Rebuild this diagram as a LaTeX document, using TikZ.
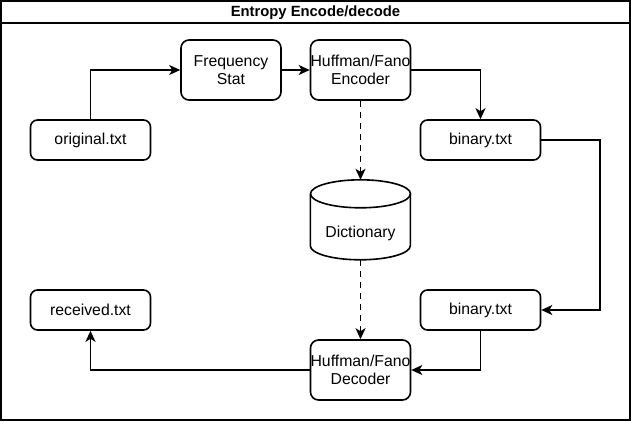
\documentclass[tikz,border=0pt]{standalone}
\usepackage{fontspec}
\setmainfont{Liberation Sans}
\usetikzlibrary{arrows.meta,calc}
\begin{document}
\begin{tikzpicture}[x=1pt,y=-1pt,
  box/.style={draw=black,line width=1.6pt,rounded corners=8pt,fill=white,align=center,
    font=\fontsize{15.8}{18.5}\selectfont,inner sep=0pt},
  bigbox/.style={box,minimum width=100pt,minimum height=60pt},
  filebox/.style={box,rounded corners=7pt,minimum width=120pt,minimum height=40pt},
  conn/.style={line width=1.5pt,-{Stealth[length=11pt,width=10pt,inset=3pt]}},
  dconn/.style={conn,dash pattern=on 6pt off 5pt}]
\useasboundingbox (0,0) rectangle (631,421);
% frame
\draw[line width=1.5pt] (1,1) rectangle (630,420);
\draw[line width=1.5pt] (1,23) -- (630,23);
\node[font=\bfseries\fontsize{14.8}{17}\selectfont] (title) at (315.5,13) {Entropy Encode/decode};
% nodes
\node[filebox] (orig) at (90.5,140) {original.txt};
\node[bigbox] (freq) at (231,70) {Frequency\\Stat};
\node[bigbox] (enc) at (360.5,70) {Huffman/Fano\\Encoder};
\node[filebox] (bin1) at (480.5,140) {binary.txt};
\node[minimum width=100pt,minimum height=80pt,inner sep=0pt] (dict) at (360.5,220) {};
\draw[line width=1.6pt,fill=white] (dict.north west) ++(0,14) -- ++(0,52)
  arc[start angle=180,end angle=360,x radius=50pt,y radius=14pt] -- ++(0,-52);
\draw[line width=1.6pt] ($(dict.north)+(0,14)$) ellipse[x radius=50pt,y radius=14pt];
\node[font=\fontsize{15.8}{18.5}\selectfont] (dictlabel) at (360.5,233) {Dictionary};
\node[filebox] (bin2) at (480.5,310) {binary.txt};
\node[bigbox] (dec) at (360.5,370) {Huffman/Fano\\Decoder};
\node[filebox] (recv) at (90.5,310) {received.txt};
% connectors
\draw[conn] (orig.north) |- (freq.west);
\draw[conn] (freq.east) -- (enc.west);
\draw[conn] (enc.east) -| (bin1.north);
\draw[dconn] (enc.south) -- (dict.north);
\draw[dconn] (dict.south) -- (dec.north);
\coordinate (rt) at (600,140);
\draw[conn] (bin1.east) -- (rt) |- (bin2.east);
\draw[conn] (bin2.south) |- (dec.east);
\draw[conn] (dec.west) -| (recv.south);
\end{tikzpicture}
\end{document}
